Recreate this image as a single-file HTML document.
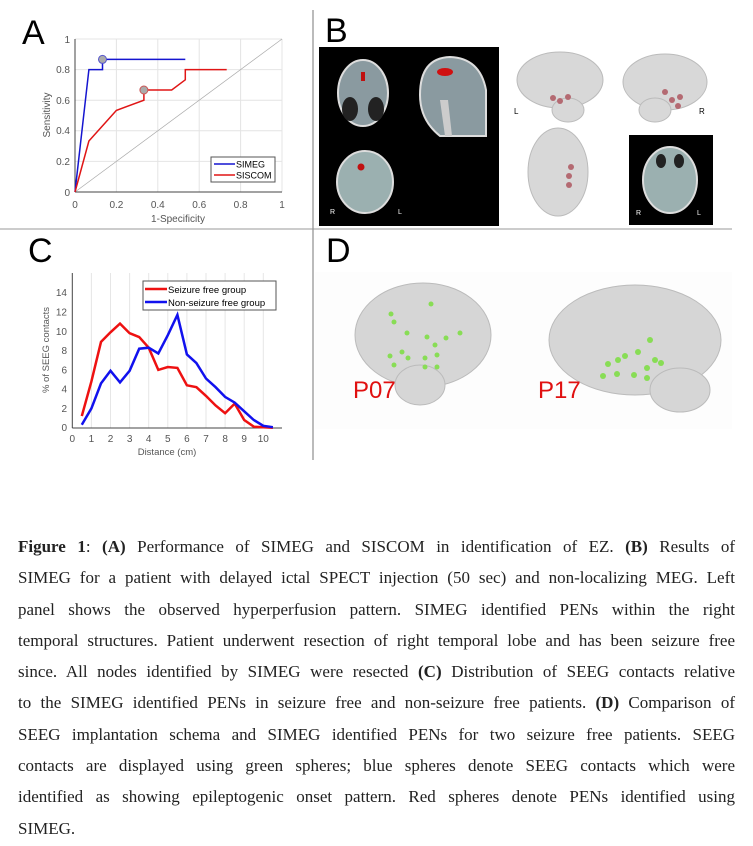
<!DOCTYPE html>
<html><head><meta charset="utf-8"><style>
body{margin:0;background:#fff;width:753px;height:846px;overflow:hidden;position:relative}
svg{position:absolute;left:0;top:0}
.cap{position:absolute;left:18px;width:717px;font-family:"Liberation Serif",serif;font-size:17px;color:#222}
.cap div{height:31.3px;line-height:31.3px;text-align:justify;text-align-last:justify;white-space:nowrap}
.cap div.l{text-align-last:left}
</style></head><body>
<svg width="753" height="846" font-family="Liberation Sans, sans-serif">
<line x1="313" y1="10" x2="313" y2="460" stroke="#777"/>
<line x1="0" y1="229" x2="732" y2="229" stroke="#999"/>
<text x="22" y="44" font-size="34">A</text>
<text x="325" y="42" font-size="34">B</text>
<text x="28" y="262" font-size="34">C</text>
<text x="326" y="262" font-size="34">D</text>
<!-- Panel A -->
<g stroke="#e4e4e4">
<line x1="116.4" y1="39" x2="116.4" y2="192"/><line x1="157.8" y1="39" x2="157.8" y2="192"/><line x1="199.2" y1="39" x2="199.2" y2="192"/><line x1="240.6" y1="39" x2="240.6" y2="192"/><line x1="282" y1="39" x2="282" y2="192"/>
<line x1="75" y1="161.4" x2="282" y2="161.4"/><line x1="75" y1="130.8" x2="282" y2="130.8"/><line x1="75" y1="100.2" x2="282" y2="100.2"/><line x1="75" y1="69.6" x2="282" y2="69.6"/><line x1="75" y1="39" x2="282" y2="39"/>
</g>
<line x1="75" y1="192" x2="282" y2="39" stroke="#aaa" stroke-width="0.7"/>
<line x1="75" y1="39" x2="75" y2="192" stroke="#444"/><line x1="75" y1="192" x2="282" y2="192" stroke="#444"/>
<g font-size="10" fill="#555" text-anchor="end">
<text x="70" y="196">0</text><text x="70" y="165">0.2</text><text x="70" y="134">0.4</text><text x="70" y="104">0.6</text><text x="70" y="73">0.8</text><text x="70" y="43">1</text></g>
<g font-size="10" fill="#555" text-anchor="middle">
<text x="75" y="208">0</text><text x="116.4" y="208">0.2</text><text x="157.8" y="208">0.4</text><text x="199.2" y="208">0.6</text><text x="240.6" y="208">0.8</text><text x="282" y="208">1</text>
<text x="178" y="222">1-Specificity</text>
<text transform="translate(50,115) rotate(-90)">Sensitivity</text></g>
<polyline fill="none" stroke="#1515d0" stroke-width="1.5" points="75,192 88.9,69.6 102.5,69.6 102.5,59.4 185.3,59.4"/>
<polyline fill="none" stroke="#e01515" stroke-width="1.5" points="75,192 88.9,141 116.4,110.4 143.9,100.2 143.9,90 171.7,90 185.3,79.8 185.3,69.6 226.7,69.6"/>
<circle cx="102.5" cy="59.4" r="4" fill="#aaa" stroke="#5555cc"/>
<circle cx="143.9" cy="90" r="4" fill="#aaa" stroke="#cc5555"/>
<rect x="211" y="157" width="64" height="25" fill="#fff" stroke="#555"/>
<line x1="214" y1="164" x2="235" y2="164" stroke="#1515d0" stroke-width="1.5"/>
<line x1="214" y1="175" x2="235" y2="175" stroke="#e01515" stroke-width="1.5"/>
<text x="236" y="167.5" font-size="9">SIMEG</text><text x="236" y="178.5" font-size="9">SISCOM</text>
<!-- Panel C -->
<g stroke="#e6e6e6" id="cg"></g>
<line x1="72.3" y1="273" x2="72.3" y2="428" stroke="#444"/><line x1="72.3" y1="428" x2="282" y2="428" stroke="#444"/>
<g font-size="10" fill="#555" text-anchor="end" id="cy"></g>
<g font-size="10" fill="#555" text-anchor="middle" id="cx"></g>
<text x="167" y="455" font-size="9.5" fill="#555" text-anchor="middle">Distance (cm)</text>
<text transform="translate(49,350) rotate(-90)" font-size="9.5" fill="#555" text-anchor="middle">% of SEEG contacts</text>
<polyline id="rl" fill="none" stroke="#ee1111" stroke-width="2.5"/>
<polyline id="bl" fill="none" stroke="#1111ee" stroke-width="2.5"/>
<rect x="143" y="281" width="133" height="29" fill="#fff" stroke="#555"/>
<line x1="145" y1="289" x2="167" y2="289" stroke="#ee1111" stroke-width="2.5"/>
<line x1="145" y1="302" x2="167" y2="302" stroke="#1111ee" stroke-width="2.5"/>
<text x="168" y="293" font-size="9.5">Seizure free group</text><text x="168" y="306" font-size="9.5">Non-seizure free group</text>
<!-- Panel B -->
<rect x="319" y="47" width="180" height="179" fill="#000"/>
<ellipse cx="363" cy="93" rx="25" ry="33" fill="#8a9aa0" stroke="#ddd" stroke-width="2"/>
<ellipse cx="350" cy="109" rx="8" ry="12" fill="#222"/>
<ellipse cx="376" cy="109" rx="8" ry="12" fill="#222"/>
<rect x="361" y="72" width="4" height="9" fill="#c01010"/>
<path d="M420,95 Q420,58 450,57 Q480,58 486,90 L486,136 L440,136 Q420,120 420,95Z" fill="#8a9aa0" stroke="#ddd" stroke-width="2"/>
<ellipse cx="445" cy="72" rx="8" ry="4" fill="#d01010"/>
<path d="M440,100 L445,136 L452,136 L448,100Z" fill="#ccc"/>
<ellipse cx="365" cy="182" rx="28" ry="31" fill="#9bb0b0" stroke="#ddd" stroke-width="2"/>
<circle cx="361" cy="167" r="3.5" fill="#c01010"/>
<text x="330" y="214" font-size="7" fill="#fff">R</text><text x="398" y="214" font-size="7" fill="#fff">L</text>
<g fill="#d8d8d8" stroke="#bbb">
<ellipse cx="560" cy="80" rx="43" ry="28"/><ellipse cx="568" cy="110" rx="16" ry="12"/>
<ellipse cx="665" cy="82" rx="42" ry="28"/><ellipse cx="655" cy="110" rx="16" ry="12"/>
<ellipse cx="558" cy="172" rx="30" ry="44"/></g>
<g fill="#b46a72"><circle cx="553" cy="98" r="3"/><circle cx="560" cy="101" r="3"/><circle cx="568" cy="97" r="3"/><circle cx="665" cy="92" r="3"/><circle cx="672" cy="100" r="3"/><circle cx="680" cy="97" r="3"/><circle cx="678" cy="106" r="3"/><circle cx="571" cy="167" r="3"/><circle cx="569" cy="176" r="3"/><circle cx="569" cy="185" r="3"/></g>
<text x="514" y="114" font-size="8">L</text><text x="699" y="114" font-size="8">R</text>
<rect x="629" y="135" width="84" height="90" fill="#000"/>
<ellipse cx="670" cy="180" rx="27" ry="33" fill="#9bb0b0" stroke="#ddd" stroke-width="2"/>
<ellipse cx="661" cy="161" rx="5" ry="7" fill="#222"/><ellipse cx="679" cy="161" rx="5" ry="7" fill="#222"/>
<text x="636" y="215" font-size="7" fill="#fff">R</text><text x="697" y="215" font-size="7" fill="#fff">L</text>
<!-- Panel D -->
<rect x="315" y="272" width="417" height="157" fill="#fdfdfd"/>
<g fill="#d6d6d6" stroke="#bbb">
<ellipse cx="423" cy="335" rx="68" ry="52"/><ellipse cx="420" cy="385" rx="25" ry="20"/>
<ellipse cx="635" cy="340" rx="86" ry="55"/><ellipse cx="680" cy="390" rx="30" ry="22"/></g>
<g fill="#88dd55"><circle cx="431" cy="304" r="2.5"/><circle cx="391" cy="314" r="2.5"/><circle cx="394" cy="322" r="2.5"/><circle cx="407" cy="333" r="2.5"/><circle cx="427" cy="337" r="2.5"/><circle cx="446" cy="338" r="2.5"/><circle cx="460" cy="333" r="2.5"/><circle cx="435" cy="345" r="2.5"/><circle cx="402" cy="352" r="2.5"/><circle cx="390" cy="356" r="2.5"/><circle cx="408" cy="358" r="2.5"/><circle cx="425" cy="358" r="2.5"/><circle cx="437" cy="355" r="2.5"/><circle cx="437" cy="367" r="2.5"/><circle cx="394" cy="365" r="2.5"/><circle cx="425" cy="367" r="2.5"/>
<circle cx="608" cy="364" r="3"/><circle cx="618" cy="360" r="3"/><circle cx="625" cy="356" r="3"/><circle cx="638" cy="352" r="3"/><circle cx="650" cy="340" r="3"/><circle cx="655" cy="360" r="3"/><circle cx="661" cy="363" r="3"/><circle cx="647" cy="368" r="3"/><circle cx="617" cy="374" r="3"/><circle cx="603" cy="376" r="3"/><circle cx="634" cy="375" r="3"/><circle cx="647" cy="378" r="3"/></g>
<text x="353" y="398" font-size="24" fill="#e01010">P07</text>
<text x="538" y="398" font-size="24" fill="#e01010">P17</text>
</svg>
<div class="cap" style="top:531px">
<div><b>Figure 1</b>: <b>(A)</b> Performance of SIMEG and SISCOM in identification of EZ. <b>(B)</b> Results of</div>
<div>SIMEG for a patient with delayed ictal SPECT injection (50 sec) and non-localizing MEG. Left</div>
<div>panel shows the observed hyperperfusion pattern. SIMEG identified PENs within the right</div>
<div>temporal structures. Patient underwent resection of right temporal lobe and has been seizure free</div>
<div>since. All nodes identified by SIMEG were resected <b>(C)</b> Distribution of SEEG contacts relative</div>
<div>to the SIMEG identified PENs in seizure free and non-seizure free patients. <b>(D)</b> Comparison of</div>
<div>SEEG implantation schema and SIMEG identified PENs for two seizure free patients. SEEG</div>
<div>contacts are displayed using green spheres; blue spheres denote SEEG contacts which were</div>
<div>identified as showing epileptogenic onset pattern. Red spheres denote PENs identified using</div>
<div class="l">SIMEG.</div>
</div>
<script>
var X=d=>72.3+19.1*d,Y=v=>427.7-9.64*v,ns="http://www.w3.org/2000/svg";
var r=[1.2,4.8,8.9,9.9,10.8,9.8,9.4,8.3,6.0,6.3,6.2,4.4,4.2,3.3,2.3,1.5,2.5,0.8,0.1,0.05,0];
var b=[0.3,2.0,4.6,5.9,4.7,5.9,8.2,8.3,7.7,9.6,11.7,7.6,6.7,5.1,4.2,3.2,2.6,1.7,0.8,0.2,0.05];
function pts(a){return a.map((v,i)=>X(0.5+i*0.5).toFixed(1)+","+Y(v).toFixed(1)).join(" ")}
document.getElementById("rl").setAttribute("points",pts(r));
document.getElementById("bl").setAttribute("points",pts(b));
function el(t,at,p,tx){var e=document.createElementNS(ns,t);for(var k in at)e.setAttribute(k,at[k]);if(tx!=null)e.textContent=tx;document.getElementById(p).appendChild(e);}
for(var i=1;i<=10;i++)el("line",{x1:X(i),x2:X(i),y1:273,y2:428},"cg");
for(var i=0;i<=10;i++)el("text",{x:X(i),y:442},"cx",i);
for(var v=0;v<=14;v+=2)el("text",{x:67,y:Y(v)+3.5},"cy",v);
</script>
</body></html>
